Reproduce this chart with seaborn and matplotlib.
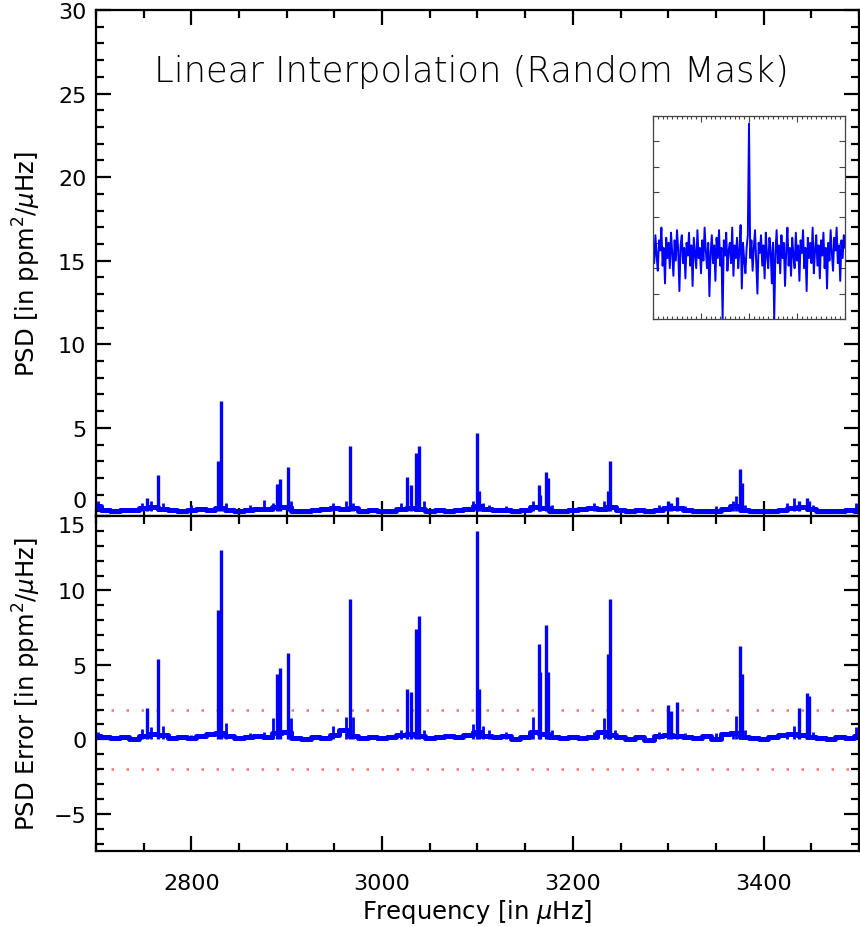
import numpy as np
import pandas as pd
import matplotlib
matplotlib.use("Agg")
import matplotlib.pyplot as plt
from matplotlib.ticker import MultipleLocator, NullFormatter
import seaborn as sns

# ---------------- data ----------------
# baseline (every 10 uHz, 2700..3500)
base_freq = np.arange(2700, 3501, 10)
base_top = [0.3, 0.1, 0.05, 0.1, 0.1, 0.2, 0.25, 0.15, 0.1, 0.05,
            0.1, 0.15, 0.1, 0.2, 0.1, 0.05, 0.1, 0.15, 0.15, 0.25,
            0.25, 0.05, 0.05, 0.1, 0.15, 0.2, 0.15, 0.2, 0.05, 0.1,
            0.05, 0.05, 0.15, 0.2, 0.15, 0.05, 0.1, 0.05, 0.1, 0.15,
            0.3, 0.15, 0.1, 0.1, 0.05, 0.1, 0.25, 0.2, 0.05, 0.05,
            0.1, 0.15, 0.2, 0.15, 0.25, 0.1, 0.05, 0.1, 0.0, 0.1,
            0.2, 0.2, 0.1, 0.05, 0.0, 0.05, 0.15, 0.3, 0.1, 0.05,
            0.0, 0.05, 0.1, 0.2, 0.25, 0.15, 0.05, 0.0, 0.05, 0.1, 0.05]
base_err = [0.2, 0.15, 0.1, 0.15, 0.05, 0.25, 0.35, 0.3, 0.1, 0.15,
            0.1, 0.2, 0.35, 0.45, 0.2, 0.1, 0.15, 0.2, 0.15, 0.45,
            0.5, 0.1, 0.05, 0.15, 0.1, 0.3, 0.6, 0.25, 0.1, 0.15,
            0.1, 0.15, 0.3, 0.35, 0.25, 0.1, 0.15, 0.2, 0.15, 0.3,
            0.5, 0.25, 0.15, 0.2, 0.05, 0.15, 0.5, 0.35, 0.15, 0.1,
            0.15, 0.1, 0.15, 0.5, 0.3, 0.15, 0.05, 0.15, -0.05, 0.2,
            0.3, 0.25, 0.15, 0.1, 0.2, 0.05, 0.35, 0.45, 0.15, 0.1,
            0.05, 0.15, 0.3, 0.35, 0.3, 0.15, 0.1, 0.05, 0.15, 0.1, 0.2]

# small noise bumps
bump_freq = [2702, 2748, 2758, 2770, 2800, 2836, 2862, 2876, 2886, 2905,
             2948, 2962, 2970, 3020, 3044, 3095, 3106, 3112, 3130, 3158,
             3178, 3222, 3233, 3244, 3290, 3318, 3350, 3368, 3371, 3380,
             3425, 3432, 3452, 3497]
bump_top = [0.6, 0.5, 0.6, 0.5, 0.4, 0.5, 0.4, 0.7, 0.5, 0.6,
            0.5, 0.6, 0.5, 0.5, 0.6, 0.6, 0.5, 0.4, 0.3, 0.6,
            0.4, 0.5, 0.6, 0.4, 0.4, 0.3, 0.3, 0.6, 0.9, 0.4,
            0.5, 0.8, 0.4, 0.5]
bump_err = [0.5, 0.7, 0.8, 0.9, 0.3, 1.1, 0.4, 0.5, 1.4, 1.4,
            0.9, 1.5, 1.5, 0.6, 0.6, 1.0, 0.9, 0.6, 0.5, 1.5,
            0.6, 0.5, 1.4, 0.6, 0.5, 0.4, 0.4, 0.5, 1.6, 0.6,
            0.4, 0.9, 0.5, 0.8]

# mode peaks
peak_freq = [2754, 2765, 2828, 2831, 2890, 2893, 2901, 2966, 3026, 3030,
             3036, 3039, 3100, 3102, 3164, 3166, 3172, 3174, 3237, 3239,
             3300, 3303, 3309, 3375, 3377, 3437, 3445, 3448]
peak_top = [0.8, 2.2, 3.0, 6.6, 1.65, 1.95, 2.65, 3.9, 2.05, 1.6,
            3.5, 3.9, 4.7, 1.2, 1.6, 1.0, 2.35, 2.0, 1.2, 3.0,
            0.6, 0.5, 0.85, 2.55, 1.7, 0.6, 0.8, 0.6]
peak_err = [2.1, 5.4, 8.7, 12.7, 4.4, 4.8, 5.8, 9.4, 3.35, 3.2,
            7.4, 8.25, 14.0, 3.35, 6.4, 4.5, 7.7, 4.5, 5.7, 9.4,
            2.3, 1.9, 2.5, 6.3, 4.4, 2.1, 3.1, 2.9]

err_levels = [2.0, -2.0]

# inset (zoomed spectral window / noise)
inset_x = np.linspace(-2, 2, 161)
inset_val = [2.9, 2.2, 3.3, 2.5, 1.9, 3.1, 2.7, 3.6, 2.1, 2.8, 1.4, 3.2, 2.4, 3.0, 2.0, 3.4, 2.6, 1.7, 3.1, 2.3,
             3.5, 2.7, 1.1, 2.9, 3.3, 2.2, 2.8, 1.6, 3.0, 2.5, 3.4, 2.1, 2.9, 1.3, 3.2, 2.6, 2.0, 3.5, 2.4, 2.8,
             1.8, 3.1, 2.3, 3.6, 2.7, 2.0, 3.0, 0.9, 2.6, 3.3, 2.2, 2.9, 1.5, 3.2, 2.4, 3.5, 2.1, 2.8, 0.0, 3.1,
             2.5, 3.4, 1.9, 2.7, 3.0, 2.2, 3.6, 1.7, 2.9, 2.4, 3.2, 2.0, 2.7, 3.7, 1.2, 3.0, 2.3, 1.8, 2.8, 3.3,
             7.7, 2.4, 3.1, 1.9, 2.8, 3.5, 2.2, 1.0, 3.0, 2.6, 3.3, 2.1, 2.9, 1.6, 3.4, 2.5, 2.0, 3.2, 2.7, 1.4,
             3.0, 0.0, 2.6, 3.5, 2.2, 2.9, 1.8, 3.3, 2.4, 3.0, 1.3, 2.7, 3.6, 2.1, 2.8, 1.7, 3.2, 2.5, 2.0, 3.4,
             2.3, 2.9, 1.5, 3.1, 2.6, 3.5, 2.0, 2.8, 1.1, 3.2, 2.4, 3.0, 2.2, 3.6, 1.8, 2.7, 3.3, 2.1, 2.9, 1.6,
             3.1, 2.5, 3.4, 2.0, 2.8, 1.2, 3.0, 2.3, 3.5, 2.6, 1.9, 3.2, 2.7, 3.6, 2.2, 2.9, 1.5, 3.1, 2.4, 3.3,
             2.8]

xticks_major = [2800, 3000, 3200, 3400]
yticks_top = [0, 5, 10, 15, 20, 25, 30]
yticks_err = [-5, 0, 5, 10, 15]
title = "Linear Interpolation (Random Mask)"

# ---------------- style ----------------
sns.set_style("ticks")
plt.rcParams['font.family'] = ['DejaVu Sans']
plt.rcParams['mathtext.fontset'] = 'dejavusans'
for k in ["text.color", "axes.labelcolor", "xtick.color", "ytick.color"]:
    plt.rcParams[k] = "black"

BLUE = "#0000ff"
fig = plt.figure(figsize=(8.6, 9.28), dpi=100)
ax1 = fig.add_axes([0.1116, 0.4429, 0.8872, 0.5453])
ax2 = fig.add_axes([0.1116, 0.0819, 0.8872, 0.3610])

df_base = pd.DataFrame({"freq": base_freq, "top": base_top, "err": base_err})

for ax, col, peaks, bumps in [(ax1, "top", peak_top, bump_top),
                              (ax2, "err", peak_err, bump_err)]:
    sns.lineplot(data=df_base, x="freq", y=col, ax=ax, color=BLUE, lw=3.6,
                 drawstyle="steps-mid", estimator=None, sort=True)
    ax.vlines(bump_freq, 0, bumps, color=BLUE, lw=2.0)
    ax.vlines(peak_freq, 0, peaks, color=BLUE, lw=2.4)
    ax.set_xlim(2700, 3500)
    ax.xaxis.set_major_locator(MultipleLocator(200))
    ax.xaxis.set_minor_locator(MultipleLocator(50))
    ax.yaxis.set_minor_locator(MultipleLocator(1))
    ax.tick_params(which="both", direction="in", top=True, right=True,
                   width=1.6, colors="black", labelsize=16)
    ax.tick_params(which="major", length=11, pad=7)
    ax.tick_params(which="minor", length=6)
    for s in ax.spines.values():
        s.set_linewidth(1.6)
        s.set_color("black")
    ax.set_xlabel("")

ax1.set_ylim(-0.27, 30)
ax1.xaxis.set_major_formatter(NullFormatter())
ax1.set_yticks(yticks_top)
ax1.set_yticklabels([str(t) for t in yticks_top])
ax1.get_yticklabels()[0].set_verticalalignment("bottom")
ax1.set_ylabel(r"PSD [in ppm$^2$/$\mu$Hz]", fontsize=17.5)
ax1.yaxis.set_label_coords(-0.07, 0.5)
ax1.text(0.492, 0.879, title, transform=ax1.transAxes, ha="center",
         va="center", fontsize=25.5, fontweight="light", color="black")

ax2.set_ylim(-7.5, 15)
ax2.set_yticks(yticks_err)
ax2.set_yticklabels([str(t).replace("-", "\u2212") for t in yticks_err])
ax2.get_yticklabels()[-1].set_verticalalignment("top")
for lev in err_levels:
    ax2.axhline(lev, color="#ff5a5a", lw=1.8, ls=(0, (1, 5)), alpha=0.85, zorder=0)
ax2.set_xticks(xticks_major)
ax2.set_xticklabels([str(t) for t in xticks_major])
ax2.tick_params(axis="x", which="major", pad=16)
ax2.set_ylabel(r"PSD Error [in ppm$^2$/$\mu$Hz]", fontsize=17.5)
ax2.yaxis.set_label_coords(-0.07, 0.5)
ax2.set_xlabel(r"Frequency [in $\mu$Hz]", fontsize=17.5, labelpad=3)

# inset
axi = fig.add_axes([0.7593, 0.6552, 0.2233, 0.2188])
sns.lineplot(x=inset_x, y=inset_val, ax=axi, color=BLUE, lw=1.4,
             estimator=None, sort=False)
axi.set_xlim(-2, 2)
axi.set_ylim(0, 8)
axi.xaxis.set_major_locator(MultipleLocator(1))
axi.xaxis.set_minor_locator(MultipleLocator(0.1))
axi.yaxis.set_major_locator(MultipleLocator(1))
axi.xaxis.set_major_formatter(NullFormatter())
axi.yaxis.set_major_formatter(NullFormatter())
axi.tick_params(which="both", direction="in", top=True, right=True,
                width=0.8, colors="#444444")
axi.tick_params(which="major", length=4)
axi.tick_params(which="minor", length=2)
for s in axi.spines.values():
    s.set_linewidth(0.9)
    s.set_color("#444444")

fig.savefig("out.png", dpi=100)
